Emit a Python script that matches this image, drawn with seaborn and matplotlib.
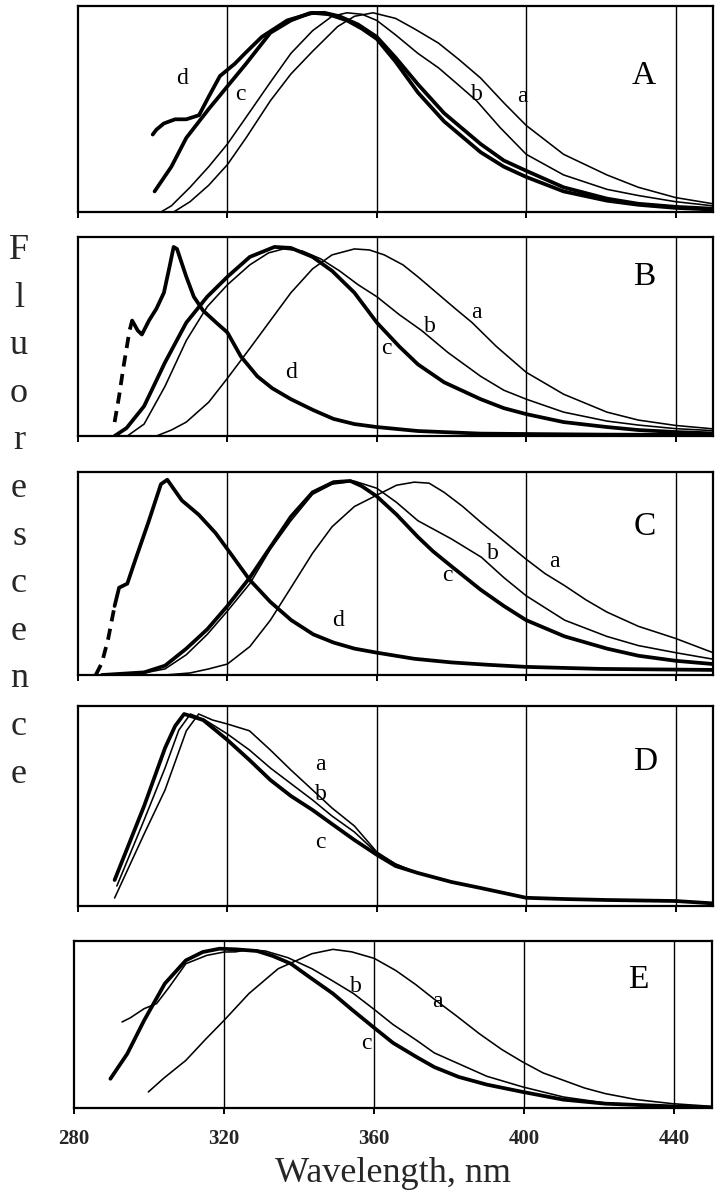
import matplotlib
matplotlib.use("Agg")
import matplotlib.pyplot as plt
import seaborn as sns
import pandas as pd

# ---------------- data (wavelength nm, normalised fluorescence) ----------------
# Panel A
A_a_x = [305.6, 310, 315, 320, 325, 331.5, 337, 342.8, 349.5, 354, 359, 365, 370, 376.5, 382, 387.8, 394, 400, 410, 421.6, 430, 440, 450]
A_a_y = [0.0, 0.05, 0.13, 0.23, 0.36, 0.54, 0.67, 0.78, 0.90, 0.95, 0.967, 0.94, 0.89, 0.82, 0.74, 0.65, 0.53, 0.42, 0.28, 0.18, 0.12, 0.07, 0.04]
A_b_x = [302.2, 305, 310, 315, 320, 325, 331.5, 337, 342.8, 348, 352, 356, 360, 365, 371, 376.5, 381, 386.7, 393, 400, 410, 421.6, 430, 440, 450]
A_b_y = [0.0, 0.03, 0.12, 0.22, 0.33, 0.46, 0.63, 0.77, 0.88, 0.95, 0.967, 0.96, 0.93, 0.86, 0.77, 0.70, 0.63, 0.54, 0.41, 0.28, 0.18, 0.11, 0.08, 0.05, 0.03]
A_c_x = [300.5, 305, 309, 315, 320, 325, 331.5, 337, 342, 346, 350, 355, 360, 365, 371, 378, 387.8, 394, 400, 410, 421.6, 430, 440, 450]
A_c_y = [0.10, 0.22, 0.36, 0.50, 0.61, 0.72, 0.87, 0.93, 0.965, 0.967, 0.95, 0.91, 0.85, 0.75, 0.62, 0.48, 0.33, 0.25, 0.20, 0.12, 0.065, 0.04, 0.025, 0.016]
A_d_x = [300, 301, 303, 306, 309, 312.4, 315, 318, 320, 322, 324.7, 329.2, 336, 342.8, 347, 352, 356, 360, 365, 371, 378, 387.8, 394, 400, 410, 421.6, 430, 440, 450]
A_d_y = [0.376, 0.40, 0.43, 0.45, 0.45, 0.47, 0.56, 0.66, 0.69, 0.72, 0.77, 0.85, 0.93, 0.967, 0.96, 0.93, 0.89, 0.84, 0.73, 0.58, 0.44, 0.29, 0.22, 0.17, 0.10, 0.055, 0.035, 0.02, 0.012]

# Panel B
B_a_x = [301, 305, 309, 315, 320, 326, 331.5, 337, 342.8, 348, 354, 358, 362, 367, 371, 376, 381, 385.5, 392, 400, 410, 421.6, 430, 440, 450]
B_a_y = [0.0, 0.03, 0.07, 0.17, 0.29, 0.44, 0.58, 0.72, 0.84, 0.91, 0.94, 0.935, 0.91, 0.86, 0.80, 0.72, 0.64, 0.57, 0.45, 0.32, 0.21, 0.12, 0.08, 0.053, 0.036]
B_b_x = [293.2, 297.7, 303.3, 309, 314.6, 320, 326, 331, 335, 340, 345, 350, 355, 360, 366, 372, 379, 387.8, 394, 400, 410, 421.6, 430, 440, 450]
B_b_y = [0.0, 0.06, 0.25, 0.48, 0.65, 0.76, 0.86, 0.92, 0.94, 0.93, 0.89, 0.83, 0.76, 0.70, 0.61, 0.53, 0.42, 0.30, 0.23, 0.185, 0.12, 0.075, 0.055, 0.037, 0.027]
B_c_x = [289.8, 293, 297.7, 303.3, 309, 314.6, 320, 326, 332.6, 337, 342.8, 348, 354, 360, 366, 371, 378, 387.8, 394, 400, 410, 421.6, 430, 440, 450]
B_c_y = [0.0, 0.04, 0.15, 0.37, 0.57, 0.70, 0.80, 0.90, 0.95, 0.945, 0.90, 0.83, 0.72, 0.57, 0.45, 0.36, 0.27, 0.185, 0.14, 0.11, 0.07, 0.045, 0.03, 0.02, 0.013]
B_d1_x = [289.8, 291, 292.2, 293.8, 294.5]
B_d1_y = [0.07, 0.20, 0.35, 0.53, 0.58]
B_d2_x = [294.5, 296, 297.1, 299, 301, 303, 304.5, 305.6, 306.5, 309, 311, 313.5, 317, 320, 323.6, 328, 332, 337, 343, 348.4, 354, 360, 371, 387.8, 400, 420, 450]
B_d2_y = [0.58, 0.53, 0.51, 0.58, 0.64, 0.72, 0.85, 0.95, 0.94, 0.80, 0.70, 0.63, 0.57, 0.52, 0.40, 0.30, 0.24, 0.185, 0.13, 0.086, 0.06, 0.045, 0.025, 0.012, 0.01, 0.007, 0.005]

# Panel C
C_a_x = [303.3, 310, 315, 320, 326, 331.5, 337, 342.8, 348, 354, 360, 365.3, 370, 374, 378, 383, 388, 394, 400, 405, 410.3, 416, 421.6, 430, 440, 450]
C_a_y = [0.0, 0.01, 0.03, 0.054, 0.14, 0.27, 0.43, 0.60, 0.73, 0.83, 0.886, 0.935, 0.95, 0.945, 0.90, 0.83, 0.75, 0.66, 0.57, 0.50, 0.44, 0.37, 0.31, 0.24, 0.18, 0.11]
C_b_x = [290, 297.7, 303.3, 309, 314.6, 320, 326, 331.5, 337, 342.8, 348, 354, 360, 365.3, 371, 380, 388, 394, 400, 410.3, 421.6, 430, 440, 450]
C_b_y = [0.0, 0.01, 0.03, 0.10, 0.20, 0.315, 0.45, 0.62, 0.76, 0.89, 0.94, 0.955, 0.92, 0.85, 0.76, 0.67, 0.58, 0.48, 0.39, 0.27, 0.19, 0.145, 0.11, 0.078]
C_c_x = [286.4, 297.7, 303.3, 309, 314.6, 320, 326, 331.5, 337, 342.8, 348.4, 352.9, 356, 360, 365.3, 371, 375, 380, 387.8, 394, 400, 410.3, 421.6, 430, 440, 450]
C_c_y = [0.0, 0.013, 0.046, 0.13, 0.225, 0.34, 0.48, 0.63, 0.78, 0.90, 0.95, 0.956, 0.93, 0.88, 0.79, 0.68, 0.61, 0.535, 0.42, 0.34, 0.27, 0.19, 0.13, 0.095, 0.07, 0.054]
C_d1_x = [284.75, 286.4, 288.1, 289.8]
C_d1_y = [0.0, 0.06, 0.18, 0.34]
C_d2_x = [289.8, 291, 293.2, 295.4, 298.8, 302.2, 303.9, 305.5, 307.8, 312.3, 316.8, 320, 325.9, 331.5, 337.1, 343, 348.4, 354, 360, 370, 380, 390, 400, 420, 450]
C_d2_y = [0.34, 0.43, 0.45, 0.57, 0.75, 0.94, 0.962, 0.92, 0.86, 0.79, 0.70, 0.62, 0.47, 0.36, 0.27, 0.20, 0.16, 0.13, 0.11, 0.08, 0.062, 0.05, 0.04, 0.03, 0.025]

# Panel D
D_a_x = [289.8, 297.7, 303.3, 306, 309, 312.3, 316, 320, 325.9, 331.5, 337, 342.8, 348, 354, 360, 365, 371, 380, 387.8, 395, 400, 410, 421.6, 430, 440, 450]
D_a_y = [0.04, 0.36, 0.58, 0.72, 0.876, 0.96, 0.93, 0.91, 0.876, 0.78, 0.68, 0.58, 0.49, 0.40, 0.27, 0.21, 0.165, 0.12, 0.09, 0.06, 0.041, 0.035, 0.03, 0.03, 0.025, 0.015]
D_b_x = [290.4, 297.7, 303.3, 307, 310.1, 314, 320, 325.9, 331.5, 342.8, 348, 354, 360, 365, 371, 380, 387.8, 400, 410, 421.6, 440, 450]
D_b_y = [0.10, 0.43, 0.69, 0.88, 0.96, 0.93, 0.86, 0.78, 0.69, 0.53, 0.45, 0.37, 0.265, 0.21, 0.165, 0.12, 0.09, 0.041, 0.035, 0.03, 0.025, 0.015]
D_c_x = [289.8, 297.7, 303.3, 306, 308.4, 313.5, 320, 325.9, 331.5, 337, 342.8, 348, 354, 360, 365, 371, 380, 387.8, 400, 410, 421.6, 440, 450]
D_c_y = [0.13, 0.50, 0.79, 0.90, 0.96, 0.93, 0.83, 0.73, 0.63, 0.55, 0.48, 0.41, 0.33, 0.256, 0.20, 0.165, 0.12, 0.09, 0.041, 0.035, 0.03, 0.025, 0.013]

# Panel E
E_a_x = [299.8, 304, 309.8, 315, 320, 326.6, 334.4, 343.4, 349, 354, 360, 365.7, 371, 375.8, 382, 388, 394, 399.6, 405, 410.4, 416, 421.6, 430, 439.4, 450]
E_a_y = [0.096, 0.18, 0.285, 0.41, 0.525, 0.685, 0.834, 0.924, 0.95, 0.935, 0.896, 0.824, 0.74, 0.655, 0.55, 0.445, 0.35, 0.275, 0.21, 0.166, 0.12, 0.086, 0.05, 0.026, 0.01]
E_b_x = [292.8, 295, 298.7, 302, 305.4, 309.8, 315.4, 320, 323, 326.6, 331, 337, 343.4, 349, 354.5, 360, 365, 371.3, 376, 382.5, 390, 399.6, 410.4, 421.6, 439.4, 450]
E_b_y = [0.515, 0.54, 0.595, 0.625, 0.725, 0.864, 0.914, 0.934, 0.935, 0.948, 0.94, 0.90, 0.834, 0.76, 0.685, 0.59, 0.50, 0.405, 0.33, 0.265, 0.19, 0.126, 0.066, 0.03, 0.01, 0.002]
E_c_x = [289.7, 294.2, 298.7, 304.2, 309.8, 314.3, 318.8, 323.2, 328.8, 333, 337.8, 343, 349, 354, 360, 365, 371.3, 376, 382.5, 390, 399.6, 410.4, 421.6, 439.4, 450]
E_c_y = [0.175, 0.325, 0.525, 0.745, 0.884, 0.934, 0.954, 0.95, 0.94, 0.91, 0.864, 0.78, 0.685, 0.59, 0.48, 0.39, 0.305, 0.245, 0.186, 0.14, 0.096, 0.05, 0.026, 0.01, 0.002]

panel_names = ["A", "B", "C", "D", "E"]
tick_values = [280, 320, 360, 400, 440]
grid_values = [320, 360, 400, 440]
ylabel_letters = list("Fluorescence")
xlabel_text = "Wavelength, nm"

# curve labels: (panel, text, x, y)
curve_labels = [
    ("A", "d", 307.8, 0.65), ("A", "c", 323.6, 0.57), ("A", "b", 386.7, 0.57), ("A", "a", 399.0, 0.56),
    ("B", "a", 386.7, 0.62), ("B", "b", 374.3, 0.55), ("B", "c", 362.5, 0.44), ("B", "d", 337.1, 0.32),
    ("C", "c", 378.8, 0.49), ("C", "b", 391.2, 0.60), ("C", "a", 407.5, 0.56), ("C", "d", 349.5, 0.27),
    ("D", "a", 345.0, 0.71), ("D", "b", 345.0, 0.56), ("D", "c", 345.0, 0.32),
    ("E", "b", 355.1, 0.725), ("E", "a", 376.9, 0.635), ("E", "c", 357.9, 0.385),
]
panel_letter_pos = {"A": (431.5, 0.66), "B": (431.7, 0.80), "C": (431.7, 0.73), "D": (431.7, 0.72), "E": (430.3, 0.77)}

THICK, THIN = 2.7, 1.15
curves = [
    ("A", A_a_x, A_a_y, THIN, "-"), ("A", A_b_x, A_b_y, THIN, "-"),
    ("A", A_c_x, A_c_y, THICK, "-"), ("A", A_d_x, A_d_y, THICK, "-"),
    ("B", B_a_x, B_a_y, THIN, "-"), ("B", B_b_x, B_b_y, THIN, "-"),
    ("B", B_c_x, B_c_y, THICK, "-"), ("B", B_d1_x, B_d1_y, THICK, (0, (3, 2))),
    ("B", B_d2_x, B_d2_y, THICK, "-"),
    ("C", C_a_x, C_a_y, THIN, "-"), ("C", C_b_x, C_b_y, THIN, "-"),
    ("C", C_c_x, C_c_y, THICK, "-"), ("C", C_d1_x, C_d1_y, THICK, (0, (3, 2))),
    ("C", C_d2_x, C_d2_y, THICK, "-"),
    ("D", D_a_x, D_a_y, THIN, "-"), ("D", D_b_x, D_b_y, THIN, "-"),
    ("D", D_c_x, D_c_y, THICK, "-"),
    ("E", E_a_x, E_a_y, THIN, "-"), ("E", E_b_x, E_b_y, THIN, "-"),
    ("E", E_c_x, E_c_y, THICK, "-"),
]

# ---------------- figure ----------------
sns.set_theme(style="ticks")
plt.rcParams['font.family'] = ['Liberation Serif', 'DejaVu Serif']

W, H = 719, 1199
fig = plt.figure(figsize=(W / 100, H / 100), dpi=100)
fig.patch.set_facecolor("white")

rects_px = {
    "A": (78, 6, 713, 212),
    "B": (78, 237, 713, 436),
    "C": (78, 472, 713, 675),
    "D": (78, 706, 713, 906),
    "E": (74, 941, 712, 1108),
}
axes = {}
for name in panel_names:
    l, t, r, b = rects_px[name]
    ax = fig.add_axes([l / W, 1 - b / H, (r - l) / W, (b - t) / H])
    axes[name] = ax

for name, xs, ys, lw, ls in curves:
    df = pd.DataFrame({"wl": xs, "fl": ys})
    sns.lineplot(data=df, x="wl", y="fl", ax=axes[name], color="black",
                 linewidth=lw, linestyle=ls, estimator=None, sort=False,
                 solid_capstyle="round", solid_joinstyle="round")

for name in panel_names:
    ax = axes[name]
    ax.set_xlim(280, 450)
    ax.set_ylim(0, 1.0)
    ax.set_facecolor("white")
    for v in grid_values:
        ax.axvline(v, color="black", linewidth=1.0, zorder=0)
    ax.set_xticks(tick_values)
    ax.set_yticks([])
    ax.tick_params(axis="x", direction="out", length=4, width=1.4, color="black")
    for s in ax.spines.values():
        s.set_visible(True)
        s.set_color("black")
        s.set_linewidth(1.6)
    ax.set_xlabel("")
    ax.set_ylabel("")
    if name != "E":
        ax.set_xticklabels([])
    else:
        ax.set_xticklabels([str(v) for v in tick_values], fontsize=15, fontweight="bold")
        ax.tick_params(axis="x", pad=11)
    px, py = panel_letter_pos[name]
    ax.text(px, py, name, fontsize=24, ha="center", va="center", color="black")

for name, t, x, y in curve_labels:
    axes[name].text(x, y, t, fontsize=17, ha="center", va="center", color="black")

# x label
fig.text((74 + 712) / 2 / W, 1 - 1173 / H, xlabel_text, fontsize=26, ha="center", va="center")

# vertical letter-by-letter y label
for i, ch in enumerate(ylabel_letters):
    base = 259 + i * 47.6
    fig.text(19 / W, 1 - base / H, ch, fontsize=26, ha="center", va="baseline")

fig.savefig("out.png", dpi=100, facecolor="white")
